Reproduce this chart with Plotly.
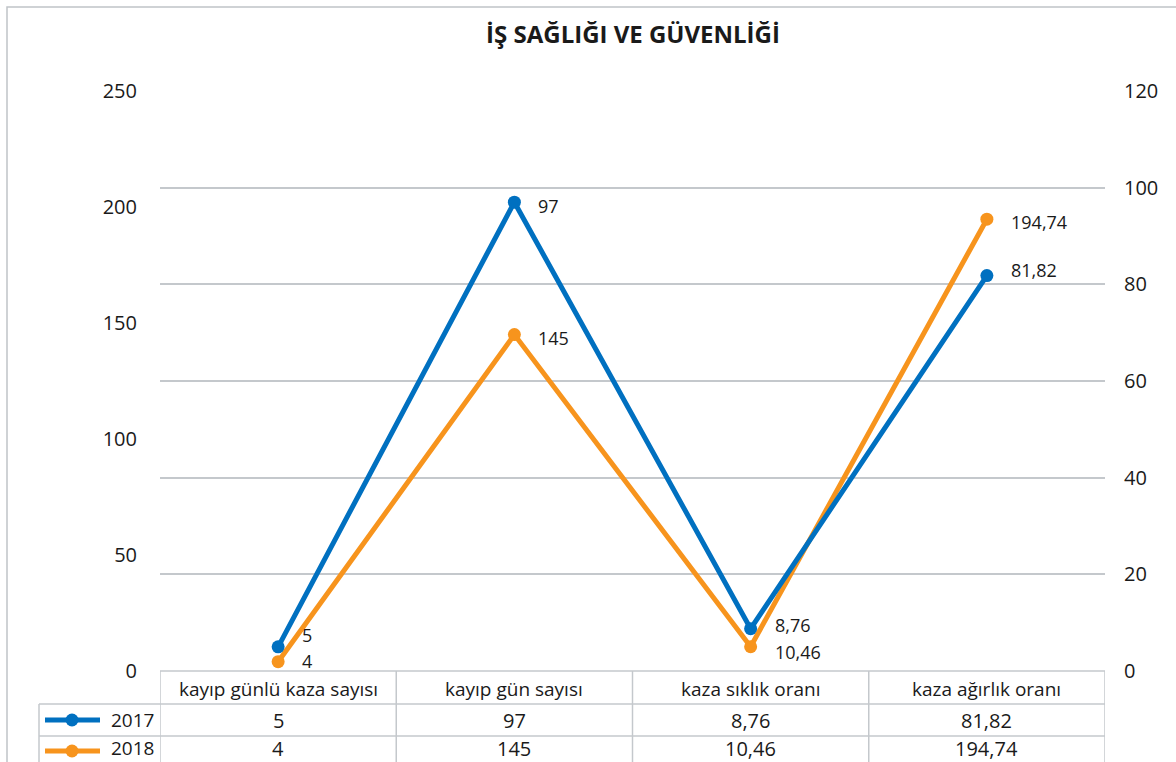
import plotly.graph_objects as go

categories = ["kayıp günlü kaza sayısı", "kayıp gün sayısı", "kaza sıklık oranı", "kaza ağırlık oranı"]
series_names = ["2017", "2018"]
values_2017 = [5, 97, 8.76, 81.82]
values_2018 = [4, 145, 10.46, 194.74]
left_ticks = [0, 50, 100, 150, 200, 250]
right_ticks = [0, 20, 40, 60, 80, 100, 120]

# label vertical nudges (styling, pixels up)
label_shift_2017 = [12, -4, 4, 6]
label_shift_2018 = [1, -3, -5, -3]

BLUE = "#0070C0"
ORANGE = "#F7941D"
GRID = "#C4C8CC"
TXT = "#1a1a1a"
FONT = "Open Sans"

W, H = 1176, 762
ML, MR, MT, MB = 160, 71, 91, 91
PW = W - ML - MR
PH = H - MT - MB


def fmt(v):
    s = f"{v:g}"
    return s.replace(".", ",")


def py(p):  # pixel y -> paper y
    return (H - MB - p) / PH


def px(p):  # pixel x -> paper x
    return (p - ML) / PW


xs = list(range(len(categories)))

fig = go.Figure()
fig.add_trace(go.Scatter(
    x=xs, y=values_2018, name=series_names[1], yaxis="y",
    mode="lines+markers", line=dict(color=ORANGE, width=5),
    marker=dict(size=13, color=ORANGE), cliponaxis=False, showlegend=False))
fig.add_trace(go.Scatter(
    x=xs, y=values_2017, name=series_names[0], yaxis="y2",
    mode="lines+markers", line=dict(color=BLUE, width=5),
    marker=dict(size=13, color=BLUE), cliponaxis=False, showlegend=False))

annotations = []
shapes = []
lab_font = dict(family=FONT, size=18, color=TXT)
for i, v in enumerate(values_2017):
    annotations.append(dict(x=i, y=v, xref="x", yref="y2", text=fmt(v), showarrow=False,
                            xanchor="left", yanchor="middle", xshift=22,
                            yshift=label_shift_2017[i], font=lab_font))
for i, v in enumerate(values_2018):
    annotations.append(dict(x=i, y=v, xref="x", yref="y", text=fmt(v), showarrow=False,
                            xanchor="left", yanchor="middle", xshift=22,
                            yshift=label_shift_2018[i], font=lab_font))

# data table
row_edges = [671, 704, 736, 768]
text_centers = [689, 720, 748]
n = len(categories)
line_style = dict(color=GRID, width=1.5)
shapes.append(dict(type="line", xref="x", yref="paper", x0=-0.5, x1=n - 0.5,
                   y0=py(row_edges[0]), y1=py(row_edges[0]), line=line_style))
for r in row_edges[1:3]:
    shapes.append(dict(type="line", xref="paper", yref="paper", x0=px(39), x1=px(ML + PW),
                       y0=py(r), y1=py(r), line=line_style))
for k in range(n + 1):
    shapes.append(dict(type="line", xref="x", yref="paper", x0=k - 0.5, x1=k - 0.5,
                       y0=py(row_edges[0]), y1=py(row_edges[3]), line=line_style))
shapes.append(dict(type="line", xref="paper", yref="paper", x0=px(39), x1=px(39),
                   y0=py(row_edges[1]), y1=py(row_edges[3]), line=line_style))

cell_font = dict(family=FONT, size=19, color=TXT)
for i, c in enumerate(categories):
    annotations.append(dict(x=i, y=py(text_centers[0]), xref="x", yref="paper",
                            text=c, showarrow=False, xanchor="center", yanchor="middle",
                            font=cell_font))
rows = [values_2017, values_2018]
colors = [BLUE, ORANGE]
for r, vals in enumerate(rows):
    yc = py(text_centers[r + 1])
    ym = py((row_edges[r + 1] + row_edges[r + 2]) / 2) if r == 0 else py(751)
    for i, v in enumerate(vals):
        annotations.append(dict(x=i, y=yc, xref="x", yref="paper", text=fmt(v),
                                showarrow=False, xanchor="center", yanchor="middle",
                                font=dict(family=FONT, size=20, color=TXT)))
    shapes.append(dict(type="line", xref="paper", yref="paper", x0=px(45), x1=px(100),
                       y0=ym, y1=ym, line=dict(color=colors[r], width=5)))
    shapes.append(dict(type="circle", xref="paper", yref="paper", xsizemode="pixel",
                       ysizemode="pixel", xanchor=px(72), yanchor=ym,
                       x0=-6.5, x1=6.5, y0=-6.5, y1=6.5,
                       fillcolor=colors[r], line=dict(color=colors[r], width=0)))
    annotations.append(dict(x=px(109), y=yc, xref="paper", yref="paper", text=series_names[r],
                            showarrow=False, xanchor="left", yanchor="middle",
                            font=dict(family=FONT, size=19, color=TXT)))

# outer frame
shapes.append(dict(type="rect", xref="paper", yref="paper", x0=px(7), x1=px(1190),
                   y0=py(7), y1=py(780), line=dict(color="#C0C4C8", width=1.5),
                   fillcolor="rgba(0,0,0,0)", layer="below"))

fig.update_layout(
    width=W, height=H, autosize=False,
    margin=dict(l=ML, r=MR, t=MT, b=MB),
    paper_bgcolor="white", plot_bgcolor="white",
    title=dict(text="<b>İŞ SAĞLIĞI VE GÜVENLİĞİ</b>", x=px(633), xref="paper",
               xanchor="center", y=1 - 35 / H, yref="container", yanchor="middle",
               font=dict(family=FONT, size=24, color=TXT)),
    xaxis=dict(range=[-0.5, n - 0.5], showticklabels=False, showgrid=False,
               zeroline=False, showline=False, fixedrange=True),
    yaxis=dict(range=[0, 250], tickvals=left_ticks, showgrid=False, zeroline=False,
               showline=False, ticks="", ticklabelstandoff=22,
               tickfont=dict(family=FONT, size=20, color=TXT)),
    yaxis2=dict(range=[0, 120], tickvals=right_ticks, overlaying="y", side="right",
                showgrid=True, gridcolor=GRID, gridwidth=1.5, zeroline=False,
                showline=False, ticks="", ticklabelstandoff=18,
                tickfont=dict(family=FONT, size=20, color=TXT)),
    shapes=shapes, annotations=annotations, showlegend=False,
)

fig.write_html("out.html", config={"displayModeBar": False},
               post_script="document.body.style.margin='0';document.body.style.overflow='hidden';")
